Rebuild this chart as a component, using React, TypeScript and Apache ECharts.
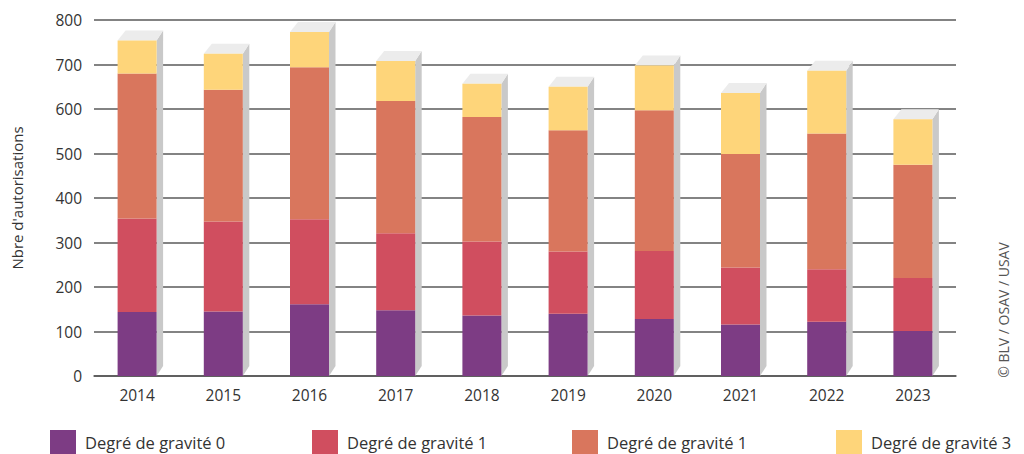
import React, { useEffect, useRef } from "react";
import * as echarts from "echarts";

const years = ["2014", "2015", "2016", "2017", "2018", "2019", "2020", "2021", "2022", "2023"];
const grav0 = [144, 145, 161, 148, 136, 140, 128, 116, 122, 101];
const grav1 = [210, 202, 191, 173, 166, 140, 153, 128, 118, 119];
const grav2 = [326, 296, 342, 297, 280, 272, 316, 255, 305, 255];
const grav3 = [74, 81, 79, 90, 75, 98, 101, 137, 141, 102];
const yTicks = [0, 100, 200, 300, 400, 500, 600, 700, 800];

const seriesIds = ["g0", "g1", "g2", "g3"];
const seriesLabels = ["Degré de gravité 0", "Degré de gravité 1", "Degré de gravité 1", "Degré de gravité 3"];
const seriesColors = ["#7d3c84", "#d04e5f", "#d9765d", "#fed57a"];
const seriesData = [grav0, grav1, grav2, grav3];

const FONT = "'Open Sans', 'DejaVu Sans', sans-serif";

export default function App() {
  const ref = useRef<HTMLDivElement>(null);
  useEffect(() => {
    if (!ref.current) return;
    const chart = echarts.init(ref.current, null, { renderer: "svg" });
    const totals = years.map((_, i) => seriesData.reduce((s, arr) => s + arr[i], 0));
    const BAR_W = 39;
    const DX = 6.5;
    const DY = 10;

    const barSeries = seriesIds.map((id, k) => ({
      name: id,
      type: "bar",
      stack: "total",
      barWidth: BAR_W,
      data: seriesData[k],
      itemStyle: { color: seriesColors[k] },
      z: 3,
    }));

    const legends = seriesIds.map((id, k) => ({
      data: [id],
      left: [50, 312, 572, 836][k],
      top: 430,
      itemWidth: 26,
      itemHeight: 24,
      itemGap: 0,
      padding: 0,
      icon: "rect",
      selectedMode: false,
      formatter: () => seriesLabels[k],
      textStyle: { fontFamily: FONT, fontSize: 16.5, color: "#333", padding: [0, 0, 2, 4], lineHeight: 20 },
    }));

    chart.setOption({
      animation: false,
      grid: { left: 94, right: 68, top: 20, bottom: 78 },
      legend: legends,
      xAxis: {
        type: "category",
        data: years,
        axisLine: { lineStyle: { color: "#555", width: 1.5 } },
        axisTick: { show: false },
        axisLabel: { fontFamily: FONT, fontSize: 15.5, color: "#333", margin: 11 },
      },
      yAxis: {
        type: "value",
        min: 0,
        max: 800,
        interval: 100,
        name: "Nbre d'autorisations",
        nameLocation: "middle",
        nameGap: 70,
        nameRotate: 90,
        nameTextStyle: { fontFamily: FONT, fontSize: 15, color: "#333" },
        axisLine: { show: false },
        axisTick: { show: false },
        axisLabel: {
          fontFamily: FONT,
          fontSize: 15.5,
          color: "#333",
          margin: 12,
          formatter: (v: number) => (yTicks.includes(v) ? String(v) : ""),
        },
        splitLine: { lineStyle: { color: "#5a5a5a", width: 1.5 } },
      },
      series: [
        ...barSeries,
        {
          type: "custom",
          name: "3d",
          data: totals.map((t, i) => [i, t]),
          z: 2,
          silent: true,
          renderItem: (params: any, api: any) => {
            const i = api.value(0);
            const t = api.value(1);
            const base = api.coord([i, 0]);
            const top = api.coord([i, t]);
            const xl = base[0] - BAR_W / 2;
            const xr = base[0] + BAR_W / 2;
            return {
              type: "group",
              children: [
                {
                  type: "polygon",
                  shape: {
                    points: [
                      [xr, top[1]],
                      [xr + DX, top[1] - DY],
                      [xr + DX, base[1] - DY],
                      [xr, base[1]],
                    ],
                  },
                  style: { fill: "#c9c9c9" },
                },
                {
                  type: "polygon",
                  shape: {
                    points: [
                      [xl, top[1]],
                      [xr, top[1]],
                      [xr + DX, top[1] - DY],
                      [xl + DX + 1.5, top[1] - DY],
                    ],
                  },
                  style: { fill: "#ececec" },
                },
              ],
            };
          },
        },
      ],
      graphic: [
        {
          type: "text",
          x: 1003,
          y: 310,
          rotation: Math.PI / 2,
          style: {
            text: "© BLV / OSAV / USAV",
            fontFamily: FONT,
            fontSize: 14,
            fill: "#555",
            align: "center",
            verticalAlign: "middle",
          },
        },
      ],
    });
    return () => chart.dispose();
  }, []);

  return (
    <div
      ref={ref}
      style={{ position: "fixed", left: 0, top: 0, width: 1024, height: 454, background: "#fff" }}
    />
  );
}
